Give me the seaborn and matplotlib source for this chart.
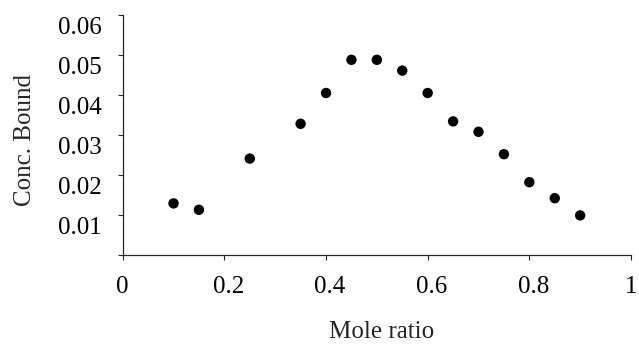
import matplotlib
matplotlib.use("Agg")
import matplotlib.pyplot as plt
import matplotlib.transforms as mtransforms
import numpy as np
import pandas as pd
import seaborn as sns

# Job plot data: mole ratio vs. concentration bound
mole_ratio = [0.10, 0.15, 0.25, 0.35, 0.40, 0.45, 0.50, 0.55,
              0.60, 0.65, 0.70, 0.75, 0.80, 0.85, 0.90]
conc_bound = [0.0129, 0.0113, 0.0241, 0.0328, 0.0405, 0.0488, 0.0488, 0.0461,
              0.0405, 0.0334, 0.0308, 0.0252, 0.0182, 0.0142, 0.0099]

x_ticks = [0, 0.2, 0.4, 0.6, 0.8, 1]
x_tick_labels = ["0", "0.2", "0.4", "0.6", "0.8", "1"]
y_ticks = [0, 0.01, 0.02, 0.03, 0.04, 0.05, 0.06]
y_tick_labels = ["", "0.01", "0.02", "0.03", "0.04", "0.05", "0.06"]

df = pd.DataFrame({"Mole ratio": mole_ratio, "Conc. Bound": conc_bound})

sns.set_style("ticks")
plt.rcParams["font.family"] = ["Liberation Serif", "DejaVu Serif"]

DPI = 100
fig = plt.figure(figsize=(6.39, 3.45), dpi=DPI)
ax = fig.add_axes([122.7 / 639, 1 - 255 / 345, (631 - 122.7) / 639, 240 / 345])

sns.scatterplot(data=df, x="Mole ratio", y="Conc. Bound", ax=ax,
                color="black", edgecolor="none", s=56, legend=False, zorder=3)

ax.set_xlim(0, 1)
ax.set_ylim(0, 0.06)
ax.set_xticks(x_ticks)
ax.set_xticklabels(x_tick_labels)
ax.set_yticks(y_ticks)
ax.set_yticklabels(y_tick_labels)

for side in ("top", "right"):
    ax.spines[side].set_visible(False)
for side in ("left", "bottom"):
    ax.spines[side].set_color("#262626")
    ax.spines[side].set_linewidth(0.9)

ax.tick_params(axis="both", direction="out", length=3.3, width=0.8,
               color="#262626", labelsize=18, labelcolor="black")
ax.tick_params(axis="x", pad=12)
ax.tick_params(axis="y", pad=12)

# y tick labels sit a little below their tick marks (offsets in pixels)
shift_y = mtransforms.ScaledTranslation(0, -10.5 / DPI, fig.dpi_scale_trans)
for lab in ax.get_yticklabels():
    lab.set_transform(lab.get_transform() + shift_y)
shift_x = mtransforms.ScaledTranslation(4 / DPI, 0, fig.dpi_scale_trans)
for lab in ax.get_xticklabels()[1:-1]:
    lab.set_transform(lab.get_transform() + shift_x)

ax.set_xlabel("Mole ratio", fontsize=18)
ax.set_ylabel("Conc. Bound", fontsize=18)
ax.xaxis.set_label_coords((381.5 - 122.7) / 508.3, (255 - 332) / 240)
ax.xaxis.label.set_va("center")
ax.yaxis.set_label_coords((25 - 122.7) / 508.3, (255 - 140) / 240)
ax.yaxis.label.set_va("center")

fig.savefig("out.png", dpi=DPI, facecolor="white")
